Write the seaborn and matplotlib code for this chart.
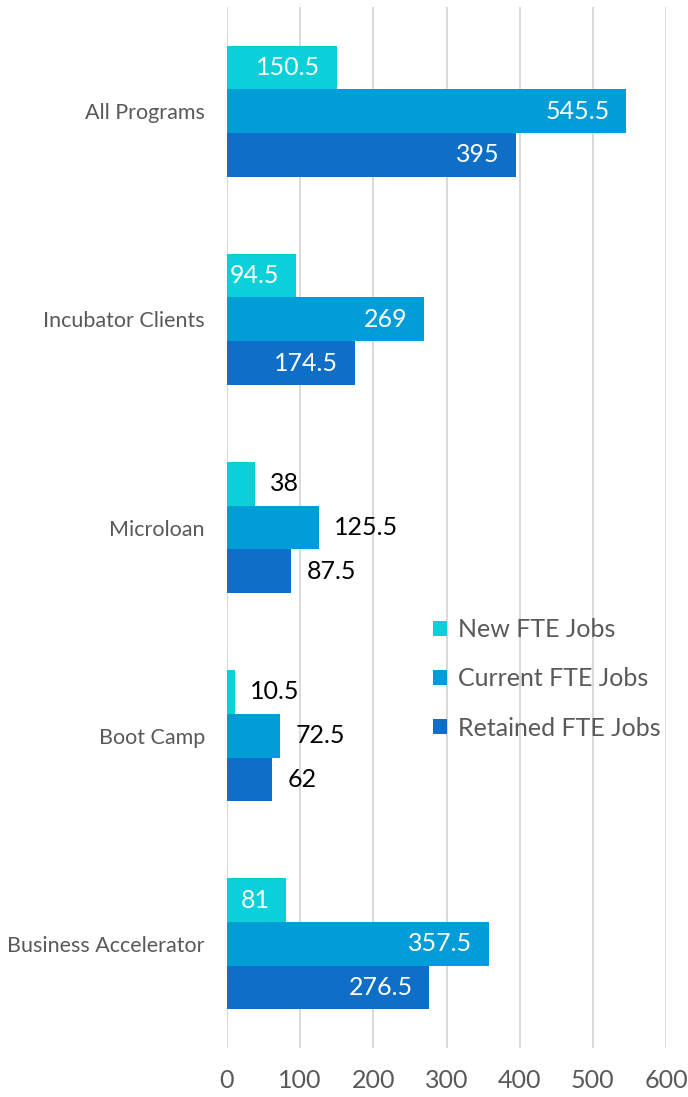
import matplotlib.pyplot as plt
import seaborn as sns
import pandas as pd

programs = ['All Programs', 'Incubator Clients', 'Microloan', 'Boot Camp', 'Business Accelerator']
series = ['New FTE Jobs', 'Current FTE Jobs', 'Retained FTE Jobs']
new_jobs = [150.5, 94.5, 38, 10.5, 81]
current_jobs = [545.5, 269, 125.5, 72.5, 357.5]
retained_jobs = [395, 174.5, 87.5, 62, 276.5]
x_ticks = [0, 100, 200, 300, 400, 500, 600]

# groups whose data labels sit outside the bars (as in the original)
outside_labels = ['Microloan', 'Boot Camp']

colors = ['#0BD0D9', '#009DD9', '#0F6FC6']

rows = []
for s, vals in zip(series, [new_jobs, current_jobs, retained_jobs]):
    for p, v in zip(programs, vals):
        rows.append({'Program': p, 'Series': s, 'Jobs': v})
df = pd.DataFrame(rows)

sns.set_style('white')
plt.rcParams['font.family'] = ['Lato', 'DejaVu Sans']

fig = plt.figure(figsize=(6.88, 10.97), dpi=100)
ax = fig.add_axes([227 / 688, 1 - 1048 / 1097, (666 - 227) / 688, (1048 - 7) / 1097])

sns.barplot(data=df, x='Jobs', y='Program', hue='Series', order=programs,
            hue_order=series, palette=colors, orient='h', width=0.63,
            linewidth=0, saturation=1, ax=ax)

ax.set_xlim(0, 600)
ax.set_xticks(x_ticks)
ax.grid(axis='x', color='#D9D9D9', linewidth=1.4)
ax.grid(axis='y', visible=False)
ax.set_axisbelow(True)
for sp in ax.spines.values():
    sp.set_visible(False)
ax.set_xlabel('')
ax.set_ylabel('')
ax.tick_params(axis='x', length=0, pad=15, labelsize=18, labelcolor='#595959')
ax.tick_params(axis='y', length=0, pad=16, labelsize=15.5, labelcolor='#595959')

# data labels
for container in ax.containers:
    for patch, prog in zip(container.patches, programs):
        w = patch.get_width()
        yc = patch.get_y() + patch.get_height() / 2
        txt = f'{w:g}'
        if prog in outside_labels:
            ax.annotate(txt, xy=(w, yc), xytext=(11, 0), textcoords='offset points',
                        ha='left', va='center', fontsize=18, color='black')
        else:
            ax.annotate(txt, xy=(w, yc), xytext=(-12, 0), textcoords='offset points',
                        ha='right', va='center', fontsize=18, color='white')

leg = ax.legend(loc='center left', bbox_to_anchor=(433 / 688, 1 - 679 / 1097),
                bbox_transform=fig.transFigure, frameon=False, fontsize=18,
                labelspacing=1.05, handlelength=0.55, handleheight=0.55,
                handletextpad=0.45, borderpad=0, borderaxespad=0)
for t in leg.get_texts():
    t.set_color('#595959')

fig.savefig('out.png', dpi=100)
